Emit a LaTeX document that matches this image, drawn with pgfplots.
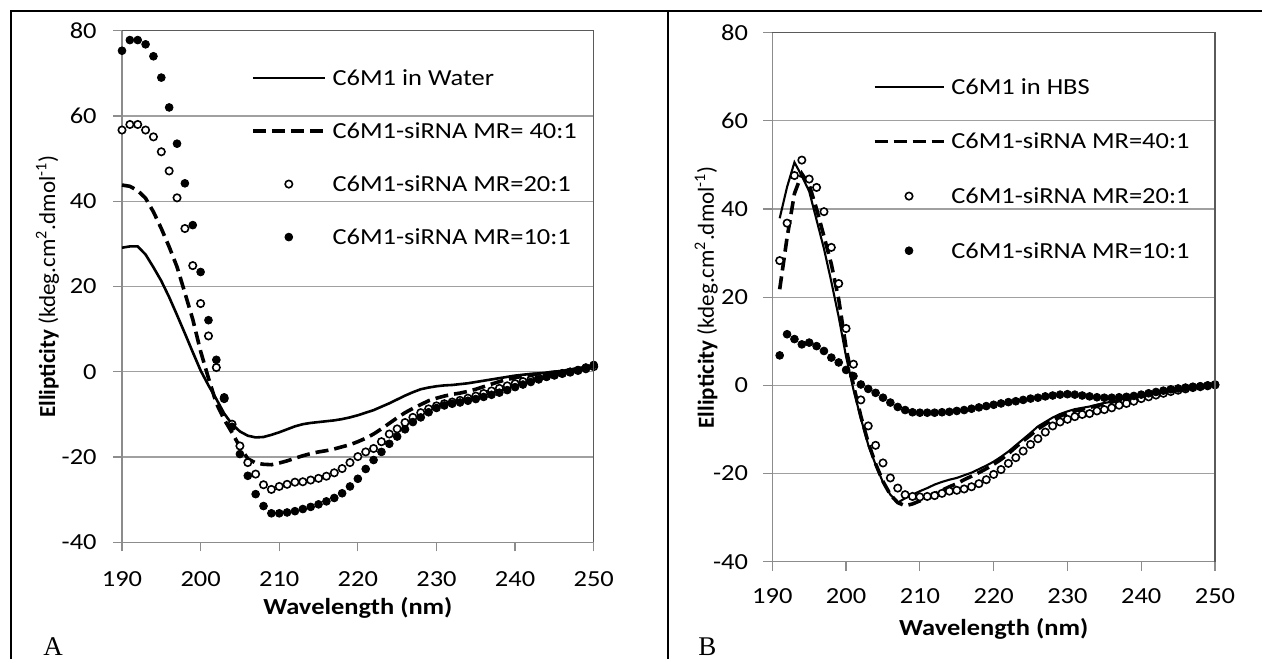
\documentclass[border=0pt]{standalone}
\usepackage{pgfplots}
\usepackage{pgfplotstable}
\pgfplotsset{compat=1.18}
\usepackage{fontspec}
\setmainfont{Carlito}[FakeStretch=1.15]
\newfontfamily\ylabfont{Carlito}
\newfontfamily\serifAB{Liberation Serif}
\definecolor{gridc}{HTML}{A0A0A0}
\definecolor{axisc}{HTML}{8C8C8C}
\definecolor{borderc}{HTML}{5A5A5A}

\pgfplotstableread{
x water d40 o20 f10
190 29.1 43.8 56.7 75.3
191 29.4 43.5 58.0 77.8
192 29.4 42.5 58.0 77.8
193 27.5 40.7 56.7 76.8
194 24.5 37.5 55.1 74.0
195 21.3 33.6 51.6 69.0
196 17.5 29.3 47.1 62.0
197 13.3 24.6 40.8 53.5
198 9.0 18.5 33.6 44.2
199 4.6 12.3 24.9 34.4
200 0.3 4.8 16.0 23.4
201 -3.2 -1.5 8.4 12.1
202 -6.4 -7.4 1.0 2.8
203 -9.8 -11.2 -6.3 -6.0
204 -12.3 -14.3 -12.3 -12.9
205 -14.0 -17.6 -17.4 -19.3
206 -15.0 -20.4 -21.3 -24.4
207 -15.4 -21.4 -24.0 -28.7
208 -15.3 -21.7 -26.5 -31.5
209 -14.8 -21.8 -27.6 -33.2
210 -14.2 -21.4 -26.9 -33.2
211 -13.5 -20.9 -26.4 -33.0
212 -12.8 -20.3 -25.9 -32.7
213 -12.3 -19.7 -25.8 -32.2
214 -12.0 -19.2 -25.4 -31.7
215 -11.8 -18.8 -25.0 -31.1
216 -11.6 -18.5 -24.5 -30.4
217 -11.4 -18.1 -23.7 -29.6
218 -11.1 -17.6 -22.7 -28.5
219 -10.7 -17.1 -21.3 -26.9
220 -10.2 -16.4 -19.9 -25.1
221 -9.6 -15.6 -18.8 -22.8
222 -9.0 -14.6 -18.0 -20.7
223 -8.2 -13.4 -16.4 -18.8
224 -7.4 -12.1 -14.6 -16.9
225 -6.5 -10.8 -13.4 -15.2
226 -5.6 -9.6 -11.9 -13.5
227 -4.8 -8.6 -10.7 -11.8
228 -4.1 -7.7 -9.6 -10.7
229 -3.7 -6.8 -8.7 -9.5
230 -3.4 -6.2 -8.0 -8.5
231 -3.2 -5.7 -7.5 -7.9
232 -3.1 -5.3 -7.1 -7.5
233 -2.9 -5.0 -6.7 -7.2
234 -2.7 -4.6 -6.2 -6.8
235 -2.4 -4.1 -5.7 -6.4
236 -2.1 -3.5 -5.1 -5.9
237 -1.8 -2.9 -4.5 -5.4
238 -1.5 -2.3 -3.9 -4.9
239 -1.2 -1.8 -3.3 -4.3
240 -0.9 -1.4 -2.8 -3.6
241 -0.7 -1.0 -2.3 -3.0
242 -0.5 -0.7 -1.9 -2.4
243 -0.4 -0.5 -1.5 -1.8
244 -0.2 -0.3 -1.1 -1.2
245 0.0 -0.1 -0.8 -0.8
246 0.2 0.1 -0.4 -0.4
247 0.5 0.4 -0.1 0.0
248 0.8 0.7 0.3 0.4
249 1.2 1.0 0.7 1.0
250 1.6 1.3 1.2 1.6
}\tabA

\pgfplotstableread{
x hbs d40 o20 f10
191 37.9 21.8 28.3 6.8
192 45.0 33.5 36.8 11.6
193 50.6 43.5 47.6 10.5
194 47.5 48.0 51.1 9.3
195 44.0 45.5 46.8 9.7
196 37.5 40.0 44.9 8.9
197 31.0 33.8 39.4 7.8
198 23.5 27.5 31.3 6.3
199 15.5 19.5 23.1 5.2
200 6.5 8.5 12.9 3.5
201 -1.0 0.0 4.8 2.1
202 -7.5 -7.0 -3.3 0.2
203 -13.5 -13.0 -9.2 -0.8
204 -18.0 -17.8 -13.6 -1.7
205 -22.0 -21.8 -17.6 -2.8
206 -24.8 -24.8 -21.0 -3.9
207 -26.6 -26.6 -23.3 -4.9
208 -25.6 -27.3 -24.8 -5.6
209 -24.8 -26.9 -25.2 -6.1
210 -24.0 -26.2 -25.3 -6.2
211 -23.3 -25.4 -25.2 -6.2
212 -22.5 -24.6 -25.0 -6.2
213 -21.9 -23.8 -24.5 -6.1
214 -21.4 -23.0 -24.0 -6.0
215 -21.0 -22.3 -23.8 -5.8
216 -20.4 -21.4 -23.5 -5.6
217 -19.8 -20.6 -23.0 -5.3
218 -19.0 -19.8 -22.3 -5.0
219 -18.2 -18.9 -21.4 -4.7
220 -17.3 -17.9 -20.2 -4.4
221 -16.2 -16.8 -19.1 -4.1
222 -15.0 -15.5 -17.7 -3.8
223 -13.6 -14.0 -16.4 -3.6
224 -12.2 -12.6 -14.9 -3.3
225 -10.8 -11.3 -13.4 -3.0
226 -9.3 -9.9 -12.1 -2.8
227 -8.3 -8.8 -10.6 -2.5
228 -7.3 -7.8 -9.2 -2.3
229 -6.5 -7.0 -8.3 -2.1
230 -5.9 -6.3 -7.7 -2.0
231 -5.4 -5.8 -7.1 -2.1
232 -5.1 -5.4 -6.6 -2.3
233 -4.8 -5.0 -6.4 -2.5
234 -4.4 -4.6 -5.8 -2.7
235 -4.0 -4.2 -5.5 -2.8
236 -3.7 -3.8 -5.1 -2.8
237 -3.3 -3.4 -4.5 -2.7
238 -2.9 -3.0 -4.1 -2.6
239 -2.5 -2.6 -3.6 -2.4
240 -2.1 -2.3 -3.0 -2.1
241 -1.8 -1.9 -2.6 -1.8
242 -1.5 -1.6 -2.2 -1.5
243 -1.2 -1.3 -1.8 -1.2
244 -1.0 -1.0 -1.4 -0.9
245 -0.7 -0.8 -1.1 -0.7
246 -0.5 -0.6 -0.8 -0.5
247 -0.3 -0.4 -0.5 -0.3
248 -0.1 -0.2 -0.3 -0.2
249 0.0 0.0 -0.1 0.0
250 0.2 0.2 0.1 0.2
}\tabB

\pgfplotsset{
  cdstyle/.style={
    scale only axis,
    xmin=190, xmax=250, ymin=-40, ymax=80,
    xtick={190,200,210,220,230,240,250},
    ytick={-40,-20,0,20,40,60,80},
    xticklabels={190,200,210,220,230,240,250},
    yticklabels={-40,-20,0,20,40,60,80},
    axis lines*=left,
    axis line style={draw=axisc, line width=0.6pt, -},
    tick align=outside,
    major tick length=4.5pt,
    tick style={draw=axisc, line width=0.6pt},
    ymajorgrids,
    major grid style={draw=gridc, line width=0.6pt},
    tick label style={font=\fontsize{11.5}{13}\selectfont, inner sep=0pt},
    label style={font=\fontsize{11.5}{13}\selectfont},
    ylabel style={font=\ylabfont\fontsize{11.5}{13}\selectfont},
    xticklabel style={anchor=north},
    yticklabel style={anchor=east},
    clip=false,
    legend cell align=left,
    after end axis/.code={\draw[borderc, line width=0.6pt] (rel axis cs:0,1) -- (rel axis cs:1,1) -- (rel axis cs:1,0);},
  },
  wline/.style={black, line width=1.3pt, no marks},
  dline/.style={black, line width=1.8pt, dash pattern=on 6.5pt off 3pt, no marks},
  omark/.style={only marks, mark=*, mark size=1.85pt, mark options={draw=black, fill=white, line width=0.8pt, solid}},
  fmark/.style={only marks, mark=*, mark size=1.95pt, mark options={draw=black, fill=black, solid}},
}

\begin{document}
\begin{tikzpicture}
\useasboundingbox (0,0) rectangle (631pt,329pt);
\clip (0,0) rectangle (631pt,329pt);
\draw[line width=1pt] (5.5pt,-5pt) -- (5.5pt,323.5pt) -- (640pt,323.5pt);
\draw[line width=1pt] (333.9pt,-5pt) -- (333.9pt,323.5pt);

\begin{axis}[cdstyle,
  at={(61pt,57.85pt)}, anchor=south west,
  width=235.85pt, height=255.8pt,
  xticklabel style={yshift=-9.7pt},
  yticklabel style={xshift=-8pt},
  xlabel={\textbf{Wavelength (nm)}},
  ylabel={\textbf{Ellipticity} (kdeg.cm\textsuperscript{2}.dmol\textsuperscript{-1})},
  xlabel style={at={(axis description cs:0.5,-0.1402)}, anchor=base},
  ylabel style={at={(axis description cs:-0.158,0.5)}, anchor=center},
  legend style={draw=none, fill=none, at={(0.2735,0.752)}, anchor=west,
    inner sep=0pt, outer sep=0pt, row sep=15.2pt, column sep=3pt,
    nodes={inner sep=0pt, text height=9.3pt, text depth=2pt},
    font=\fontsize{11.5}{13}\selectfont},
  legend image code/.code={\draw[mark repeat=2,mark phase=2,#1] plot coordinates {(0pt,0pt) (18pt,0pt) (36pt,0pt)};},
]
\addplot[wline] table[x=x,y=water]{\tabA};
\addlegendentry{C6M1 in Water}
\addplot[dline] table[x=x,y=d40]{\tabA};
\addlegendentry{C6M1-siRNA MR= 40:1}
\addplot[omark] table[x=x,y=o20]{\tabA};
\addlegendentry{C6M1-siRNA MR=20:1}
\addplot[fmark] table[x=x,y=f10]{\tabA};
\addlegendentry{C6M1-siRNA MR=10:1}
\end{axis}

\begin{axis}[cdstyle,
  at={(386.15pt,48.15pt)}, anchor=south west,
  width=221.35pt, height=264.5pt,
  xticklabel style={yshift=-8.65pt},
  yticklabel style={xshift=-7.5pt},
  xlabel={\textbf{Wavelength (nm)}},
  ylabel={\textbf{Ellipticity} (kdeg.cm\textsuperscript{2}.dmol\textsuperscript{-1})},
  xlabel style={at={(axis description cs:0.5,-0.1386)}, anchor=base},
  ylabel style={at={(axis description cs:-0.1493,0.5)}, anchor=center},
  legend style={draw=none, fill=none, at={(0.2268,0.7427)}, anchor=west,
    inner sep=0pt, outer sep=0pt, row sep=16pt, column sep=3pt,
    nodes={inner sep=0pt, text height=9.3pt, text depth=2pt},
    font=\fontsize{11.5}{13}\selectfont},
  legend image code/.code={\draw[mark repeat=2,mark phase=2,#1] plot coordinates {(0pt,0pt) (17.25pt,0pt) (34.5pt,0pt)};},
]
\addplot[black, line width=1.05pt, no marks] table[x=x,y=hbs]{\tabB};
\addlegendentry{C6M1 in HBS}
\addplot[dline] table[x=x,y=d40]{\tabB};
\addlegendentry{C6M1-siRNA MR=40:1}
\addplot[omark] table[x=x,y=o20]{\tabB};
\addlegendentry{C6M1-siRNA MR=20:1}
\addplot[fmark] table[x=x,y=f10]{\tabB};
\addlegendentry{C6M1-siRNA MR=10:1}
\end{axis}

\node[anchor=base west, inner sep=0pt, font=\serifAB\fontsize{13.5}{15}\selectfont] at (21.5pt,1.5pt) {A};
\node[anchor=base west, inner sep=0pt, font=\serifAB\fontsize{13.5}{15}\selectfont] at (349pt,1.5pt) {B};
\end{tikzpicture}
\end{document}
